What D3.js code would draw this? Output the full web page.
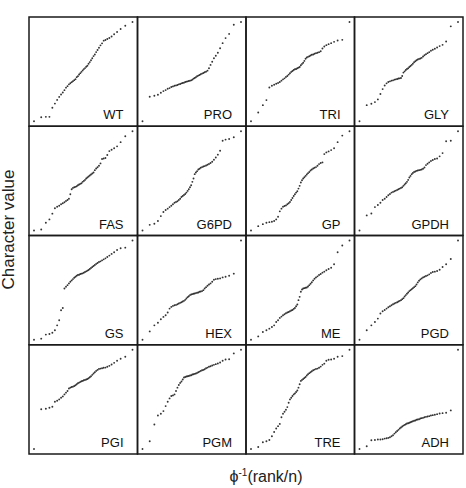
<!DOCTYPE html>
<html><head><meta charset="utf-8">
<script src="https://cdn.jsdelivr.net/npm/d3@7"></script>
<style>body{margin:0;background:#fff}</style>
</head><body><svg id="c" width="466" height="488"></svg>
<script>
// Normal scores phi^-1(rank/(n+1)) for n = 50 ranks
const zScores = [-2.062,-1.760,-1.565,-1.416,-1.293,-1.187,-1.093,-1.007,-0.929,-0.856,
  -0.787,-0.722,-0.659,-0.599,-0.541,-0.485,-0.431,-0.377,-0.325,-0.274,
  -0.223,-0.173,-0.123,-0.074,-0.025,0.025,0.074,0.123,0.173,0.223,
  0.274,0.325,0.377,0.431,0.485,0.541,0.599,0.659,0.722,0.787,
  0.856,0.929,1.007,1.093,1.187,1.293,1.416,1.565,1.760,2.062];

const panelNames = ["WT","PRO","TRI","GLY","FAS","G6PD","GP","GPDH","GS","HEX","ME","PGD","PGI","PGM","TRE","ADH"];

const WT = [1,5,5.4,5.4,14.5,18.6,22.3,25.3,27.7,29.7,32,34.5,36,37.8,38.9,40,41,42,43,45,46,47.6,49,50.3,51.7,53,54,55.4,56.4,58.4,60,61.8,63.8,66,67.6,70,72,74.3,76.7,78.7,81.4,82,83,84,85.5,87.8,90,93,96.3,100];
const PRO = [0,24.7,25.7,26.7,28.7,30.4,31.4,32.8,33.4,34.5,35.1,35.8,36.1,36.5,37.2,37.5,38.2,38.5,38.9,39.5,39.9,40.2,40.5,40.9,41.2,41.9,42.9,43.6,44.3,45.3,46,46.6,47.3,48,48.6,49.3,50,51,53.4,56.8,60,63.5,66,69,73.6,78.7,83.8,88,97.3,100];
const TRI = [0,8.8,16.2,21.3,34,35.8,36.8,37.8,38.5,39.5,40.9,42.2,43.2,44.6,45.6,47,48.3,49.7,50.7,51.7,52.4,52.7,53.4,54,54.7,56.4,57.8,59,60.8,63,64.2,64.9,65.5,66.2,67,67.2,68,68.6,69,69.6,70.6,73.3,75.3,76.7,77.7,78.7,80,81.4,82,100];
const GLY = [0,16.2,17.6,19.3,22,27.4,32.4,36,38.2,39.5,40.2,40.9,41.2,41.9,42.2,42.6,43,43.2,43.6,45.6,49,50.3,51.7,52.7,53.4,54.7,55.7,56.8,58,59.5,60.5,61.5,62.2,62.8,63.2,63.9,65.2,66.5,67.6,68.6,69.6,71,72,73,74.3,75.7,77,80.4,95.6,100];
const FAS = [0,1,7.8,11.2,17,22.4,24,25,26.4,27.4,28.4,29.7,30.7,32,36.5,41.5,42.9,43.6,44,44.6,45.6,46.3,47,47.6,49,50,51,52.4,53.4,54.4,55.4,56.4,57.4,58.4,60.8,62.5,63.8,65.2,67.6,72,72.6,73,76,80,81.4,82.8,84.8,89,95,100];
const G6PD = [0,5.7,6.8,9.5,14.5,18.6,20.6,22,23.6,25,26.4,28,28.7,29.4,30.7,32,33.8,34.8,35.8,36.8,38.2,39.9,41.5,43.6,45.6,49,52.4,56.8,58.4,59.8,61.5,62.2,63.2,63.9,64.5,64.9,65.5,66.2,67,68,69.3,71.3,73.6,76.4,80.4,90.5,91.6,92.2,94,100];
const GP = [0,4.4,6.4,7.8,8.4,8.8,9.5,11.2,13.9,19.3,22,24,24.7,25.3,26.4,27.4,28.7,30.7,32.8,34.8,36.5,38.2,39.5,42.2,45,48.3,50.7,52.4,53.7,55,56.4,57.8,59,60.5,61.5,62.5,63.2,63.9,65.2,66.9,68,68.6,77,78.7,79.7,81,82.8,89,95.6,100];
const GPDH = [0,15.2,17.2,23.6,25.7,28,30.7,32,33.8,35.5,36.8,38.2,38.9,39.5,40.2,40.9,41.5,42.2,42.9,43.6,45,46.3,47.6,49,51,53.4,55,56.8,58,59,59.5,60.1,60.5,60.8,61.1,61.5,62.2,63.5,65.9,67.2,68.6,70,71,72,72.6,74.7,78,89.9,90.5,100];
const GS = [0,1.1,5.2,5.8,7.1,9.5,14.5,19.6,29.7,32,51.7,53.4,55,56.8,58.4,59.8,61.1,62.5,63.5,64.5,65.2,65.5,66.2,66.6,66.9,67.6,68.2,68.9,69.6,70.3,71.3,72.3,73.3,74.3,75.3,76.4,77.4,78.4,79,80,81,82,83.4,84.8,86.5,88.2,90.5,92.2,92.8,100];
const HEX = [0,8.4,14.5,17.2,20.6,23,24.7,27.4,31.4,33.1,34.1,34.8,35.1,35.8,36.5,37.2,37.8,38.5,39.2,40.2,41.5,42.9,43.9,45,45.6,46,46.3,46.6,47,47.3,47.6,48.3,48.6,49,50,51.7,53,54.4,55.7,56.8,58.4,60.5,61.1,61.5,61.8,62.8,63.5,64.5,66.6,100];
const ME = [0,3.4,7.8,9.5,11.2,12.8,14.5,17.9,19.6,22,23.3,24.7,25.7,26.7,27.4,28,28.7,29.4,30,31.1,32,33.8,35.5,39.9,43.2,48.3,50.7,51.7,52,52.4,52.7,53.7,55,56.4,58,59.8,61.5,62.8,63.9,65.2,66.2,67.6,68.6,70,71.3,72.6,76,88.2,95,100];
const PGD = [0,9.5,14.5,17.9,21.3,26.4,28.7,30,31.4,32.8,33.8,34.8,35.8,36.5,37.2,37.8,38.5,39.2,39.9,40.9,41.9,43.6,45,46.3,47.6,49,50,51,52,53,54,55.7,57.8,59.5,60.8,61.8,62.8,63.5,64.2,64.9,65.9,67.2,68.2,68.6,69.3,70.6,73.3,76,81.4,100];
const PGI = [0,40,40.5,41.5,42.6,47.6,48.6,50,51.7,53,55,56.8,58.4,61,61.8,62.5,62.8,63.5,64.2,65.2,66.2,66.9,67.6,68.2,68.6,69.3,69.6,70,70.6,71.3,72.3,73.3,74.7,76,77.4,78.7,79.7,80.7,81,81.4,81.8,82,82.8,83.8,85.1,86.8,88.9,90.9,93,100];
const PGM = [0,7.8,24.7,33.8,35.5,38.2,43.2,47.6,51,53.4,54,55,58.4,61.8,64.5,66.6,68,70,72,72.6,73,73.3,73.6,74,74.3,75,75.3,75.7,76,76.7,77.4,78,78.7,79.4,79.7,80.4,81.4,82,82.8,83.4,84.1,84.8,85.5,86.1,87.2,88.9,90.2,90.5,96.3,100];
const TRE = [0,2,6.8,7.8,9.1,12.8,17.2,20.6,23,25.3,32,35.5,37.5,39.5,42.2,46.6,50,51.7,53.4,55,56,57.4,59,61.8,65.2,68.6,69.6,70.6,71.6,72.6,74,75.3,76.4,77.4,78.4,79.4,80,80.7,81,81.8,83,84.8,86,88.9,89.9,90.2,90.9,93,93.6,100];
const ADH = [0,2.7,8.8,9.1,9.5,9.5,9.8,10.5,10.8,11.2,11.8,12.8,13.9,15.5,16.9,18.2,19.3,20.6,21.6,22.6,23.6,24.3,25,25.7,26,26.4,27,27.4,28,28.4,28.7,29.4,29.7,30,30.7,31.1,31.4,32,32.4,32.8,33.1,33.8,34.1,34.5,35.1,35.8,36.1,36.5,38.9,100];

const panelValues = [WT,PRO,TRI,GLY,FAS,G6PD,GP,GPDH,GS,HEX,ME,PGD,PGI,PGM,TRE,ADH];
const yTitle = "Character value";

const svg = d3.select("#c");
const gridLeft = 29, gridTop = 17, cellW = 108.5, cellH = 109.25, pad = 5;
const font = "'Liberation Sans', Arial, Helvetica, sans-serif";

panelNames.forEach((name, i) => {
  const col = i % 4, row = Math.floor(i / 4);
  const x0 = gridLeft + col * cellW, y0 = gridTop + row * cellH;
  const vals = panelValues[i];
  const x = d3.scaleLinear().domain(d3.extent(zScores)).range([x0 + pad, x0 + cellW - pad]);
  const y = d3.scaleLinear().domain(d3.extent(vals)).range([y0 + cellH - pad, y0 + pad]);
  const g = svg.append("g").attr("class", "panel");
  g.selectAll("circle").data(vals).join("circle")
    .attr("cx", (d, k) => x(zScores[k]))
    .attr("cy", d => y(d))
    .attr("r", 0.95)
    .attr("fill", "#333");
  g.append("text")
    .attr("x", x0 + cellW - 14)
    .attr("y", y0 + cellH - 7)
    .attr("text-anchor", "end")
    .attr("font-family", font)
    .attr("font-size", 13)
    .attr("fill", "#111")
    .text(name);
  g.append("rect")
    .attr("x", x0).attr("y", y0)
    .attr("width", cellW).attr("height", cellH)
    .attr("fill", "none")
    .attr("stroke", "#1a1a1a")
    .attr("stroke-width", 1.5);
});

svg.append("text")
  .attr("transform", "translate(14," + (gridTop + 2 * cellH - 6) + ") rotate(-90)")
  .attr("text-anchor", "middle")
  .attr("font-family", font)
  .attr("font-size", 17)
  .attr("fill", "#222")
  .text(yTitle);

const xt = svg.append("text")
  .attr("x", 266)
  .attr("y", 482)
  .attr("text-anchor", "middle")
  .attr("font-family", font)
  .attr("font-size", 16)
  .attr("fill", "#222");
xt.append("tspan").text("\u03D5");
xt.append("tspan").attr("dy", -6).attr("font-size", 10).text("-1");
xt.append("tspan").attr("dy", 6).text("(rank/n)");
</script>
</body></html>
